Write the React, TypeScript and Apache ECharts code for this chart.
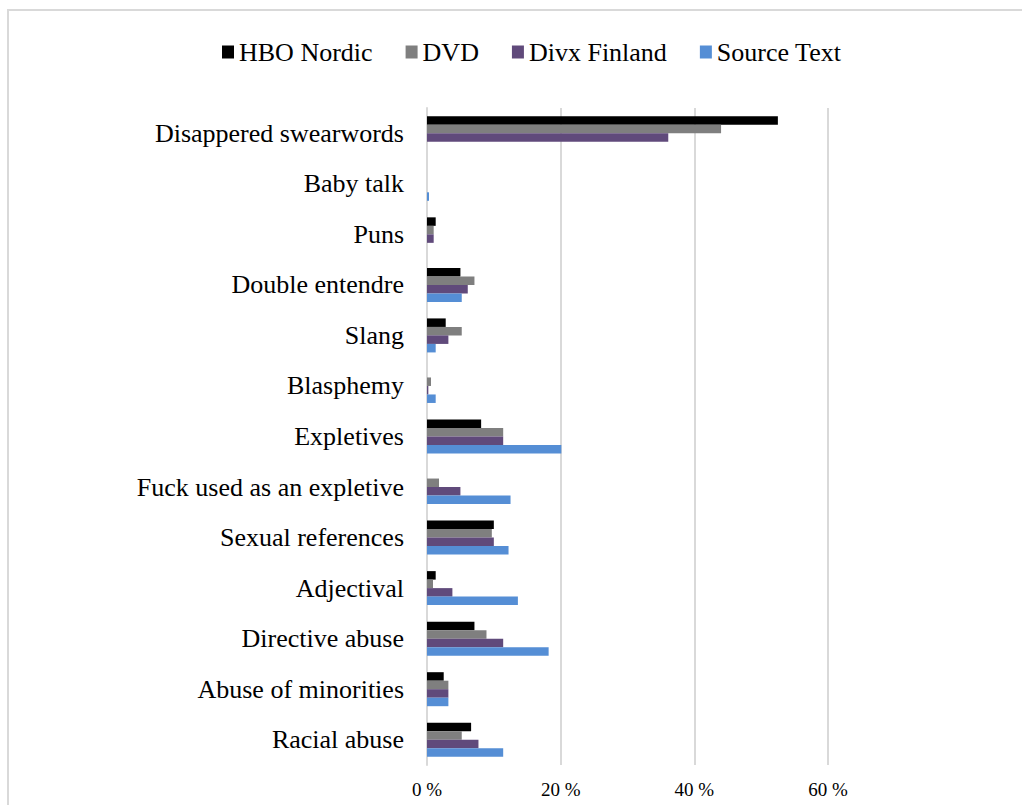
import React, { useEffect, useRef } from "react";
import * as echarts from "echarts";

const categories = [
  "Disappered swearwords",
  "Baby talk",
  "Puns",
  "Double entendre",
  "Slang",
  "Blasphemy",
  "Expletives",
  "Fuck used as an expletive",
  "Sexual references",
  "Adjectival",
  "Directive abuse",
  "Abuse of minorities",
  "Racial abuse",
];

const seriesNames = ["HBO Nordic", "DVD", "Divx Finland", "Source Text"];
const hboNordic = [52.5, 0, 1.3, 5.0, 2.8, 0, 8.1, 0, 10.0, 1.3, 7.1, 2.5, 6.6];
const dvd = [44.0, 0, 1.0, 7.1, 5.2, 0.6, 11.4, 1.8, 9.7, 0.9, 8.9, 3.2, 5.2];
const divxFinland = [36.1, 0, 1.0, 6.1, 3.2, 0.2, 11.4, 5.0, 10.0, 3.8, 11.4, 3.2, 7.7];
const sourceText = [0, 0.3, 0, 5.2, 1.3, 1.3, 20.1, 12.5, 12.2, 13.6, 18.2, 3.2, 11.4];
const seriesColors = ["#000000", "#7f7f7f", "#604a7b", "#558ed5"];
const xTicks = [0, 20, 40, 60];

const FONT = '"Liberation Serif", "Times New Roman", serif';

export default function App() {
  const ref = useRef<HTMLDivElement>(null);
  useEffect(() => {
    document.body.style.margin = "0";
    if (!ref.current) return;
    const chart = echarts.init(ref.current, null, { renderer: "svg" });
    const values = [hboNordic, dvd, divxFinland, sourceText];
    chart.setOption({
      animation: false,
      backgroundColor: "#ffffff",
      graphic: [
        {
          type: "rect",
          shape: { x: 8, y: 10, width: 1200, height: 1000 },
          style: { fill: "none", stroke: "#d9d9d9", lineWidth: 2 },
          silent: true,
        },
      ],
      legend: {
        top: 34,
        left: 217,
        itemWidth: 12,
        itemHeight: 13,
        itemGap: 33,
        icon: "rect",
        textStyle: { fontFamily: FONT, fontSize: 26, color: "#000", lineHeight: 26 },
        data: seriesNames,
      },
      grid: { left: 427, right: 194, top: 108, bottom: 40, containLabel: false },
      xAxis: {
        type: "value",
        min: xTicks[0],
        max: xTicks[xTicks.length - 1],
        interval: 20,
        axisLine: { show: false },
        axisTick: { show: false },
        splitLine: { show: true, lineStyle: { color: "#d9d9d9", width: 2 } },
        axisLabel: {
          formatter: "{value} %",
          fontFamily: FONT,
          fontSize: 19,
          color: "#000",
          margin: 15,
        },
      },
      yAxis: {
        type: "category",
        inverse: true,
        data: categories,
        axisLine: { show: true, lineStyle: { color: "#d9d9d9", width: 2 } },
        axisTick: { show: false },
        axisLabel: {
          fontFamily: FONT,
          fontSize: 26,
          color: "#000",
          margin: 23,
        },
      },
      series: seriesNames.map((name, i) => ({
        name,
        type: "bar",
        data: values[i],
        barWidth: 8.5,
        barGap: "0%",
        itemStyle: { color: seriesColors[i] },
      })),
    });
    return () => chart.dispose();
  }, []);
  return <div ref={ref} style={{ width: 1022, height: 805 }} />;
}
